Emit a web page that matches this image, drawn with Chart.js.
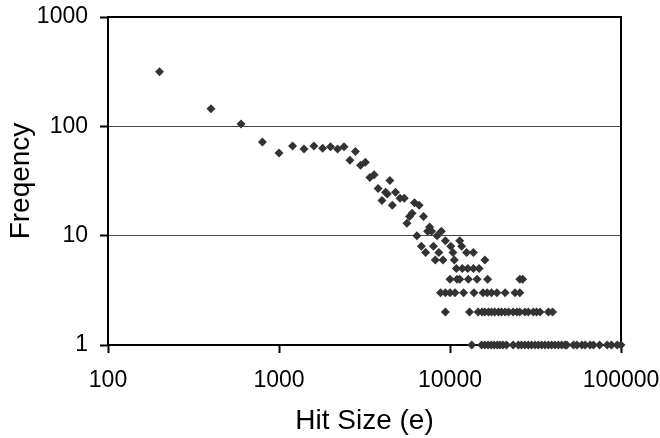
<!DOCTYPE html>
<html>
<head>
<meta charset="utf-8">
<script src="https://cdn.jsdelivr.net/npm/chart.js@4/dist/chart.umd.min.js"></script>
<style>
  html, body { margin: 0; padding: 0; background: #fff; }
  #wrap { width: 660px; height: 438px; }
</style>
</head>
<body>
<div id="wrap"><canvas id="myChart" width="660" height="438"></canvas></div>
<script>
const ctx = document.getElementById('myChart');

// hit size (e) and frequency
const hitSize = [
  200, 400, 600, 800, 1000, 1200, 1400, 1600, 1800, 2000,
  2200, 2400, 2600, 2800, 3000, 3200, 3400, 3600, 3800, 4000,
  4200, 4300, 4450, 4600, 4800, 5100, 5400, 5600, 5800, 6000,
  6200, 6400, 6600, 6800, 7000, 7200, 7400, 7600, 7800, 8000,
  8200, 8400, 8600, 8900, 9100, 9400, 10100, 10400, 10600, 11400,
  11700, 12500, 13700, 16000,
  // 5
  10900, 11800, 12700, 13700, 14800,
  // 4
  10000, 11000, 11400, 12800, 14400, 16600, 25600, 26600,
  // 3
  8800, 9400, 10000, 10700, 12000, 13800, 15600, 16500, 17500, 18800,
  21000, 24000, 25600,
  // 2
  9400, 13000, 14600, 15400, 16000, 16800, 17500, 18300, 19200, 20000,
  21000, 22000, 23400, 24600, 25600, 27400, 28700, 30700, 32100, 33600,
  37600, 39800,
  // 1
  13400, 15300, 16000, 16700, 17400, 18100, 18900, 19600, 20400, 21400,
  23400, 25100, 26200, 27400, 28700, 30000, 31400, 32800, 34300, 35900,
  37600, 39300, 41100, 43000, 45000, 47100, 48200, 52700, 55200, 59000,
  61700, 66000, 69000, 75000, 83000, 88000, 95000, 100000
];
const frequency = [
  315, 145, 105, 72, 57, 66, 62, 66, 63, 65,
  62, 65, 49, 59, 44, 47, 34, 36, 27, 21,
  25, 24, 32, 19, 25, 22, 22, 13, 15, 16,
  20, 10, 19, 8, 15, 7, 11, 12, 11, 8,
  6, 10, 7, 11, 6, 9, 8, 7, 6, 9,
  8, 7, 7, 6,
  5, 5, 5, 5, 5,
  4, 4, 4, 4, 4, 4, 4, 4,
  3, 3, 3, 3, 3, 3, 3, 3, 3, 3,
  3, 3, 3,
  2, 2, 2, 2, 2, 2, 2, 2, 2, 2,
  2, 2, 2, 2, 2, 2, 2, 2, 2, 2,
  2, 2,
  1, 1, 1, 1, 1, 1, 1, 1, 1, 1,
  1, 1, 1, 1, 1, 1, 1, 1, 1, 1,
  1, 1, 1, 1, 1, 1, 1, 1, 1, 1,
  1, 1, 1, 1, 1, 1, 1, 1
];
const xTicks = [100, 1000, 10000, 100000];
const yTicks = [1, 10, 100, 1000];

const FONT = "'Liberation Sans', Arial, sans-serif";

// draws the box round the plot, under the points
const frame = {
  id: 'frame',
  beforeDatasetsDraw(chart) {
    const a = chart.chartArea;
    const c = chart.ctx;
    c.save();
    c.strokeStyle = '#000';
    c.lineWidth = 2;
    c.strokeRect(a.left, a.top, a.right - a.left, a.bottom - a.top);
    c.restore();
  }
};

const myChart = new Chart(ctx, {
  type: 'scatter',
  data: {
    datasets: [{
      label: 'Frequency',
      data: hitSize.map((x, i) => ({ x: x, y: frequency[i] })),
      pointStyle: 'rectRot',
      pointRadius: 4.5,
      pointHoverRadius: 4.5,
      backgroundColor: '#333',
      borderColor: '#333',
      borderWidth: 0,
      clip: false
    }]
  },
  options: {
    responsive: false,
    animation: false,
    layout: { padding: { left: 0, right: 39, top: 17, bottom: 0 } },
    plugins: {
      legend: { display: false },
      tooltip: { enabled: false }
    },
    scales: {
      x: {
        type: 'logarithmic',
        min: 100,
        max: 100000,
        afterBuildTicks: (scale) => { scale.ticks = xTicks.map(v => ({ value: v })); },
        afterFit: (scale) => {
          scale.height = 93;
          scale.paddingLeft = 0;
          scale.paddingRight = 0;
        },
        grid: {
          drawOnChartArea: false,
          drawTicks: true,
          tickLength: 8,
          tickWidth: 2,
          tickColor: '#000'
        },
        border: { color: '#000', width: 2 },
        ticks: {
          color: '#000',
          padding: 14,
          maxRotation: 0,
          font: { size: 23, family: FONT },
          callback: (v) => String(v)
        },
        title: {
          display: true,
          text: 'Hit Size (e)',
          color: '#000',
          padding: { top: 0, bottom: 0 },
          font: { size: 28, family: FONT }
        }
      },
      y: {
        type: 'logarithmic',
        min: 1,
        max: 1000,
        afterBuildTicks: (scale) => { scale.ticks = yTicks.map(v => ({ value: v })); },
        afterFit: (scale) => {
          scale.width = 108;
          scale.paddingTop = 0;
          scale.paddingBottom = 0;
        },
        grid: {
          color: '#444',
          lineWidth: 1,
          drawTicks: true,
          tickLength: 8,
          tickWidth: 2,
          tickColor: '#000'
        },
        border: { color: '#000', width: 2 },
        ticks: {
          color: '#000',
          padding: 12,
          font: { size: 23, family: FONT },
          callback: (v) => String(v)
        },
        title: {
          display: true,
          text: 'Freqency',
          color: '#000',
          padding: { top: 4, bottom: 0 },
          font: { size: 28, family: FONT }
        }
      }
    }
  },
  plugins: [frame]
});
</script>
</body>
</html>
